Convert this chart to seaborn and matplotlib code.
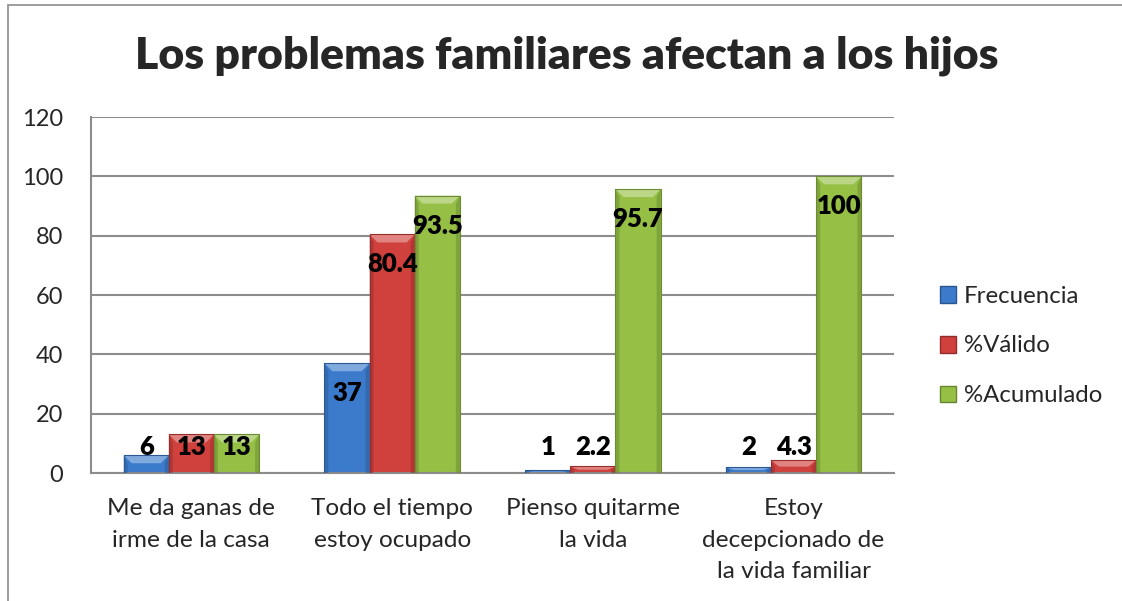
import matplotlib
matplotlib.use("Agg")
import matplotlib.pyplot as plt
import seaborn as sns
import pandas as pd
import numpy as np
from matplotlib.patches import Rectangle, Polygon
from matplotlib.colors import to_rgb

categories = ["Me da ganas de\nirme de la casa", "Todo el tiempo\nestoy ocupado",
              "Pienso quitarme\nla vida", "Estoy\ndecepcionado de\nla vida familiar"]
series = ["Frecuencia", "%Válido", "%Acumulado"]
frecuencia = [6, 37, 1, 2]
valido = [13, 80.4, 2.2, 4.3]
acumulado = [13, 93.5, 95.7, 100]
yticks = [0, 20, 40, 60, 80, 100, 120]
title = "Los problemas familiares afectan a los hijos"
colors = ["#3c7bcc", "#d0403d", "#95c045"]

sns.set_style("white")
plt.rcParams['font.family'] = ['Lato', 'DejaVu Sans']

df = pd.DataFrame({
    "cat": np.repeat(categories, 3),
    "serie": series * 4,
    "valor": [v for trio in zip(frecuencia, valido, acumulado) for v in trio],
})

fig = plt.figure(figsize=(11.22, 6.01), dpi=100)
ax = fig.add_axes([91/1122, 1-473/601, (894-91)/1122, (473-117)/601])

sns.barplot(data=df, x="cat", y="valor", hue="serie", hue_order=series,
            palette=colors, width=0.675, ax=ax, legend=False, errorbar=None,
            saturation=1, edgecolor="none")

ax.set_ylim(0, 120)
ax.set_xlim(-0.5, 3.5)
ax.set_yticks(yticks)
ax.set_yticklabels([str(t) for t in yticks], fontsize=17)
ax.set_xlabel("")
ax.set_ylabel("")
ax.set_xticks(range(4))
ax.set_xticklabels(categories, fontsize=17.6, linespacing=1.62, va="top")
ax.set_xticks(np.arange(-0.5, 4, 1), minor=True)
ax.tick_params(axis="x", which="major", length=0, pad=18)
ax.tick_params(axis="x", which="minor", length=6, width=1.5, color="#8c8c8c")
ax.tick_params(axis="y", length=6, width=1.5, color="#8c8c8c", pad=14)
ax.yaxis.grid(True, color="#8c8c8c", linewidth=1.5)
ax.set_axisbelow(True)
for s in ["top", "right"]:
    ax.spines[s].set_visible(False)
for s in ["left", "bottom"]:
    ax.spines[s].set_color("#8c8c8c")
    ax.spines[s].set_linewidth(1.5)

# bevel effect and labels from bar patches
px_y = 120 / (473 - 117)
px_x = 4 / (894 - 91)
for patch in list(ax.patches):
    x0 = patch.get_x(); w = patch.get_width(); h = patch.get_height()
    if h <= 0:
        continue
    base = np.array(to_rgb(patch.get_facecolor()))
    light = np.clip(base + (1 - base) * 0.35, 0, 1)
    dark = base * 0.72
    bh = min(8 * px_y, h / 2)
    bw = min(8 * px_x, w / 2)
    ax.add_patch(Polygon([[x0, h], [x0 + w, h], [x0 + w - bw, h - bh], [x0 + bw, h - bh]],
                         closed=True, facecolor=light, edgecolor="none", zorder=3))
    ax.add_patch(Polygon([[x0, 0], [x0 + bw * 0.5, 0], [x0 + bw * 0.5, h - bh], [x0, h]],
                         closed=True, facecolor=dark, edgecolor="none", alpha=0.5, zorder=3))
    ax.add_patch(Polygon([[x0 + w, 0], [x0 + w - bw * 0.5, 0], [x0 + w - bw * 0.5, h - bh], [x0 + w, h]],
                         closed=True, facecolor=dark, edgecolor="none", alpha=0.5, zorder=3))
    ax.add_patch(Rectangle((x0, h), w, -h, fill=False, edgecolor=dark, linewidth=0.8, zorder=4))
    label = f"{h:g}"
    ypos = max(h - 10.1, 8.8)
    ax.text(x0 + w / 2, ypos, label, ha="center", va="center", fontsize=18.5,
            fontweight="heavy", color="black", zorder=5)

fig.text(567/1122, 1-56/601, title, ha="center", va="center", fontsize=32, fontweight="heavy")

handles = [Rectangle((0, 0), 1, 1, facecolor=c, edgecolor=np.array(to_rgb(c)) * 0.7) for c in colors]
fig.legend(handles, series, loc="center left", bbox_to_anchor=(930/1122, 1-346/601),
           frameon=False, fontsize=17.3, handlelength=0.7, handleheight=0.7,
           handletextpad=0.3, labelspacing=1.2, borderaxespad=0)

fig.add_artist(Rectangle((8/1122, -0.05), 1.1, 1 - 5/601 + 0.05, transform=fig.transFigure,
                         fill=False, edgecolor="#8c8c8c", linewidth=1.2))

fig.savefig("out.png", dpi=100, facecolor="white")
